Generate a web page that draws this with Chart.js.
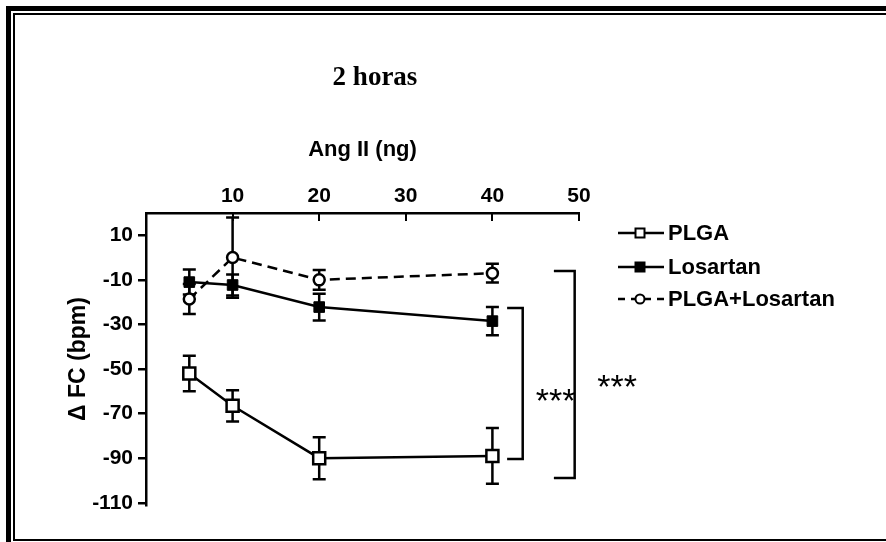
<!DOCTYPE html>
<html><head><meta charset="utf-8">
<script src="https://cdn.jsdelivr.net/npm/chart.js@4/dist/chart.umd.min.js"></script>
<style>html,body{margin:0;padding:0;background:#fff;}canvas{display:block;}</style>
</head><body>
<canvas id="c" width="886" height="542"></canvas>
<script>
const doses = [5, 10, 20, 40];
const seriesNames = ['PLGA', 'Losartan', 'PLGA+Losartan'];
const plgaMean = [-52, -66.5, -90, -89];
const plgaSem = [8, 7, 9.4, 12.5];
const losMean = [-11, -12.3, -22.2, -28.5];
const losSem = [5.6, 4.7, 6, 6.3];
const combMean = [-18.6, 0, -10, -7];
const combSem = [6.7, 18, 4.4, 4.2];
const xTicks = [10, 20, 30, 40, 50];
const yTicks = [10, -10, -30, -50, -70, -90, -110];
const chartTitle = '2 horas';
const xTitle = 'Ang II (ng)';
const yTitle = '\u0394 FC (bpm)';
// significance brackets (data units)
const bracketX = [[41.7, 43.5], [47.1, 49.5]];
const bracketY = [[-22.6, -90.4], [-6, -98.9]];
const starLabels = ['***', '***'];
const starX = [47.3, 54.4];
const starY = [-60.5, -54];

const semSets = [plgaSem, losSem, combSem];
const pts = arr => doses.map((d, i) => ({x: d, y: arr[i]}));
const SANS = "'Liberation Sans', Arial, sans-serif";

const framePlugin = {
  id: 'frame',
  beforeDraw(chart) {
    const c = chart.ctx;
    c.save();
    c.fillStyle = '#fff';
    c.fillRect(0, 0, chart.width, chart.height);
    c.fillStyle = '#000';
    c.fillRect(6, 6, 5, 536);
    c.fillRect(6, 6, 880, 5);
    c.fillRect(13, 13, 2, 528);
    c.fillRect(13, 13, 873, 2);
    c.fillRect(13, 539, 873, 2);
    c.font = "bold 27px 'Liberation Serif', 'Times New Roman', serif";
    c.textAlign = 'center';
    c.textBaseline = 'middle';
    c.fillText(chartTitle, 375, 78);
    c.restore();
  }
};

const errPlugin = {
  id: 'errbars',
  beforeDatasetsDraw(chart) {
    const c = chart.ctx, xs = chart.scales.x, ys = chart.scales.y;
    c.save();
    c.strokeStyle = '#000';
    c.lineWidth = 2.5;
    chart.data.datasets.forEach((ds, i) => {
      ds.data.forEach((p, j) => {
        const px = xs.getPixelForValue(p.x);
        const t = ys.getPixelForValue(p.y + semSets[i][j]);
        const b = ys.getPixelForValue(p.y - semSets[i][j]);
        c.beginPath();
        c.moveTo(px, t); c.lineTo(px, b);
        c.moveTo(px - 6.5, t); c.lineTo(px + 6.5, t);
        c.moveTo(px - 6.5, b); c.lineTo(px + 6.5, b);
        c.stroke();
      });
    });
    c.restore();
  },
  afterDraw(chart) {
    const c = chart.ctx, xs = chart.scales.x, ys = chart.scales.y;
    c.save();
    c.strokeStyle = '#000';
    c.fillStyle = '#000';
    c.lineWidth = 2;
    // inward x ticks
    const top = chart.chartArea.top;
    xTicks.forEach(v => {
      const px = Math.round(xs.getPixelForValue(v));
      c.beginPath(); c.moveTo(px, top); c.lineTo(px, top + 8); c.stroke();
    });
    // brackets
    c.lineWidth = 2.5;
    bracketX.forEach((bx, k) => {
      const x1 = xs.getPixelForValue(bx[0]), x2 = xs.getPixelForValue(bx[1]);
      const y1 = ys.getPixelForValue(bracketY[k][0]), y2 = ys.getPixelForValue(bracketY[k][1]);
      c.beginPath();
      c.moveTo(x1, y1); c.lineTo(x2, y1); c.lineTo(x2, y2); c.lineTo(x1, y2);
      c.stroke();
    });
    // stars
    c.font = "34px " + SANS;
    c.textAlign = 'center';
    c.textBaseline = 'alphabetic';
    starLabels.forEach((s, k) => {
      c.fillText(s, xs.getPixelForValue(starX[k]), ys.getPixelForValue(starY[k]) + 20);
    });
    // legend
    const rows = [233, 267, 299];
    chart.data.datasets.forEach((ds, i) => {
      const y = rows[i];
      c.lineWidth = 2.5;
      c.setLineDash(ds.borderDash ? [7, 6] : []);
      c.beginPath(); c.moveTo(618, y); c.lineTo(664, y); c.stroke();
      c.setLineDash([]);
      c.lineWidth = 2;
      c.beginPath();
      if (ds.pointStyle === 'circle') {
        c.arc(640, y, 4.5, 0, Math.PI * 2);
      } else {
        c.rect(635.5, y - 4.5, 9, 9);
      }
      c.fillStyle = ds.pointBackgroundColor;
      c.fill();
      c.stroke();
      c.fillStyle = '#000';
      c.font = "bold 22px " + SANS;
      c.textAlign = 'left';
      c.textBaseline = 'middle';
      c.fillText(ds.label, 668, y + 1);
    });
    c.restore();
  }
};

new Chart(document.getElementById('c'), {
  type: 'line',
  data: {
    datasets: [
      {label: seriesNames[0], data: pts(plgaMean), borderColor: '#000', borderWidth: 2.5,
       pointStyle: 'rect', pointRadius: 8.5, pointBackgroundColor: '#fff', pointBorderColor: '#000', pointBorderWidth: 2.5},
      {label: seriesNames[1], data: pts(losMean), borderColor: '#000', borderWidth: 2.5,
       pointStyle: 'rect', pointRadius: 7.5, pointBackgroundColor: '#000', pointBorderColor: '#000', pointBorderWidth: 1},
      {label: seriesNames[2], data: pts(combMean), borderColor: '#000', borderWidth: 2.5, borderDash: [10, 6],
       pointStyle: 'circle', pointRadius: 5.5, pointBackgroundColor: '#fff', pointBorderColor: '#000', pointBorderWidth: 2.5}
    ]
  },
  options: {
    responsive: false,
    animation: false,
    devicePixelRatio: 1,
    layout: {padding: {left: 60, right: 307, top: 137, bottom: 37}},
    plugins: {
      legend: {display: false},
      tooltip: {enabled: false},
      title: {display: false}
    },
    scales: {
      x: {
        type: 'linear', position: 'top', min: 0, max: 50,
        afterBuildTicks: s => { s.ticks = xTicks.map(v => ({value: v})); },
        afterFit: s => { s.height = 76; },
        grid: {display: false, drawTicks: false},
        border: {display: true, color: '#000', width: 2.5},
        ticks: {color: '#000', padding: 4, maxRotation: 0, font: {family: SANS, size: 21, weight: 'bold'}},
        title: {display: true, text: xTitle, color: '#000', padding: {top: 0, bottom: 0},
          font: {family: SANS, size: 22, weight: 'bold'}}
      },
      y: {
        type: 'linear', position: 'left', min: -111, max: 20,
        afterBuildTicks: s => { s.ticks = yTicks.map(v => ({value: v})); },
        afterFit: s => { s.width = 86; },
        grid: {display: true, drawOnChartArea: false, drawTicks: true, tickLength: 8, color: '#000', lineWidth: 2.5},
        border: {display: true, color: '#000', width: 2.5},
        ticks: {color: '#000', padding: 5, font: {family: SANS, size: 21, weight: 'bold'}},
        title: {display: true, text: yTitle, color: '#000', padding: {top: 5, bottom: 0},
          font: {family: SANS, size: 23, weight: 'bold'}}
      }
    }
  },
  plugins: [framePlugin, errPlugin]
});
</script>
</body></html>
